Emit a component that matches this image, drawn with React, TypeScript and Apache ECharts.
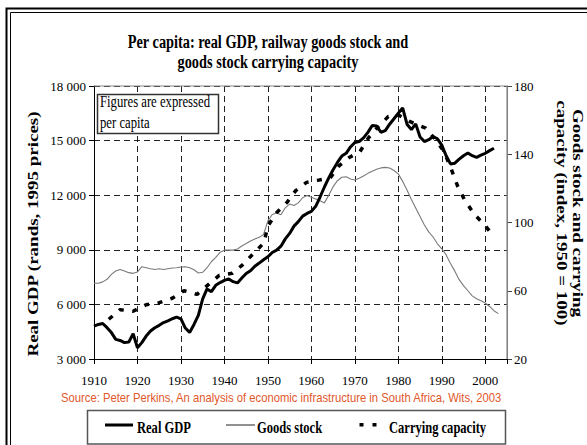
import React, { useEffect, useRef } from "react";
import * as echarts from "echarts";

// ---------- data ----------
const TITLE_LINE_1 = "Per capita: real GDP, railway goods stock and";
const TITLE_LINE_2 = "goods stock carrying capacity";
const LEFT_AXIS_TITLE = "Real GDP (rands, 1995 prices)";
const RIGHT_AXIS_TITLE = "Goods stock and carrying\ncapacity (index, 1950 = 100)";
const NOTE_LINES = ["Figures are expressed", "per capita"];
const SOURCE = "Source: Peter Perkins, An analysis of economic infrastructure in South Africa, Wits, 2003";
const SERIES_NAMES = ["Real GDP", "Goods stock", "Carrying capacity"];

const GDP_YEARS = [
  1910, 1911, 1912, 1913, 1914, 1915, 1916, 1917, 1918, 1919,
  1920, 1921, 1922, 1923, 1924, 1925, 1926, 1927, 1928, 1929,
  1930, 1931, 1932, 1933, 1934, 1935, 1936, 1937, 1938, 1939,
  1940, 1941, 1942, 1943, 1944, 1945, 1946, 1947, 1948, 1949,
  1950, 1951, 1952, 1953, 1954, 1955, 1956, 1957, 1958, 1959,
  1960, 1961, 1962, 1963, 1964, 1965, 1966, 1967, 1968, 1969,
  1970, 1971, 1972, 1973, 1974, 1975, 1976, 1977, 1978, 1979,
  1980, 1981, 1982, 1983, 1984, 1985, 1986, 1987, 1988, 1989,
  1990, 1991, 1992, 1993, 1994, 1995, 1996, 1997, 1998, 1999,
  2000, 2001, 2002,
];
const GDP = [
  4800, 4900, 4950, 4720, 4450, 4080, 4020, 3900, 3930, 4390,
  3620, 3900, 4260, 4540, 4720, 4850, 5000, 5090, 5210, 5300,
  5200, 4700, 4460, 4900, 5400, 6300, 6850, 6700, 7050, 7200,
  7320, 7400, 7250, 7180, 7450, 7700, 7850, 8100, 8270, 8450,
  8620, 8850, 8980, 9200, 9600, 9900, 10300, 10550, 10850, 11000,
  11110, 11390, 11900, 12450, 12950, 13400, 13800, 14150, 14300, 14650,
  14900, 14950, 15150, 15450, 15830, 15800, 15460, 15550, 15900, 16200,
  16500, 16800, 15900, 15600, 15920, 15200, 14950, 15050, 15220, 15100,
  14750, 14170, 13720, 13760, 13980, 14170, 14320, 14170, 14080, 14200,
  14300, 14450, 14580,
];

const STOCK_YEARS = [
  1910, 1911, 1912, 1913, 1914, 1915, 1916, 1917, 1918, 1919,
  1920, 1921, 1922, 1923, 1924, 1925, 1926, 1927, 1928, 1929,
  1930, 1931, 1932, 1933, 1934, 1935, 1936, 1937, 1938, 1939,
  1940, 1941, 1942, 1943, 1944, 1945, 1946, 1947, 1948, 1949,
  1950, 1951, 1952, 1953, 1954, 1955, 1956, 1957, 1958, 1959,
  1960, 1961, 1962, 1963, 1964, 1965, 1966, 1967, 1968, 1969,
  1970, 1971, 1972, 1973, 1974, 1975, 1976, 1977, 1978, 1979,
  1980, 1981, 1982, 1983, 1984, 1985, 1986, 1987, 1988, 1989,
  1990, 1991, 1992, 1993, 1994, 1995, 1996, 1997, 1998, 1999,
  2000, 2001, 2002, 2003,
];
const GOODS_STOCK = [
  64.4, 64.4, 65.2, 66.7, 69.6, 71.6, 72.5, 71.6, 70.6, 70.2,
  71.0, 74.1, 73.5, 72.9, 72.5, 72.9, 72.5, 72.9, 73.3, 73.5,
  73.9, 74.1, 73.5, 72.3, 70.4, 70.8, 73.5, 77.0, 79.5, 82.5,
  83.8, 83.8, 83.8, 84.5, 86.2, 87.7, 89.1, 90.3, 91.3, 93.0,
  101.0, 104.7, 105.6, 104.5, 108.6, 110.8, 110.0, 111.5, 114.5, 115.8,
  114.8, 113.8, 112.7, 111.5, 116.0, 121.0, 124.5, 126.5, 126.8, 125.5,
  124.9, 126.0, 127.3, 128.8, 130.0, 131.2, 132.0, 132.3, 131.9, 130.5,
  128.5, 124.1, 119.0, 113.5, 108.5, 103.5, 98.5, 94.5, 91.5, 87.5,
  84.6, 81.0, 76.0, 71.5, 66.5, 63.0, 60.0, 57.0, 55.3, 54.2,
  52.8, 50.8, 48.3, 46.6,
];

const CAPACITY_YEARS = [
  1913.4, 1916, 1919, 1922, 1925, 1928, 1930.7, 1933.7, 1938.8, 1941.8,
  1944.1, 1946.7, 1949.1, 1950, 1952, 1954.4, 1956.4, 1958.9, 1961.4, 1964.3,
  1966.4, 1968.7, 1971.2, 1973.1, 1975.4, 1977.7, 1980, 1982.6, 1986.3, 1988.6,
  1990.5, 1992.1, 1993.6, 1995.2, 1997.5, 1999.8, 2001.9,
];
const CARRYING_CAPACITY = [
  43.3, 48.9, 48.0, 51.8, 53.0, 55.6, 60.0, 57.9, 69.0, 70.2,
  75.0, 81.9, 88.1, 98.0, 105.7, 111.8, 118.7, 123.5, 124.7, 126.1,
  133.3, 138.1, 141.6, 149.5, 156.2, 162.1, 163.0, 159.2, 155.3, 148.5,
  141.6, 131.9, 121.6, 113.4, 104.7, 98.8, 92.0,
];

const X_MIN = 1910;
const X_MAX = 2005;
const X_STEP = 10;
const GDP_MIN = 3000;
const GDP_MAX = 18000;
const GDP_STEP = 3000;
const IDX_MIN = 20;
const IDX_MAX = 180;
const IDX_STEP = 40;

// ---------- styling ----------
const SERIF = '"Liberation Serif", "Times New Roman", Times, serif';
const SANS = '"Liberation Sans", Arial, Helvetica, sans-serif';

function measure(text: string, font: string): number {
  const ctx = document.createElement("canvas").getContext("2d");
  if (!ctx) return text.length * 8;
  ctx.font = font;
  return ctx.measureText(text).width;
}

function fitScale(text: string, font: string, target: number): number {
  const w = measure(text, font);
  return w > 0 ? target / w : 1;
}

function thousands(v: number): string {
  return String(v).replace(/\B(?=(\d{3})+(?!\d))/g, " ");
}

const zip = (xs: number[], ys: number[]) => xs.map((x, i) => [x, ys[i]]);

type FontSpec = { family: string; size: number; weight: string };

const cssFont = (f: FontSpec) => `${f.weight} ${f.size}px ${f.family}`;

export default function App() {
  const ref = useRef<HTMLDivElement>(null);

  useEffect(() => {
    if (!ref.current) return;
    const chart = echarts.init(ref.current, undefined, { renderer: "svg" });

    const titleFont: FontSpec = { family: SERIF, size: 19, weight: "bold" };
    const titleScale = fitScale(TITLE_LINE_1, cssFont(titleFont), 281);
    const noteFont: FontSpec = { family: SERIF, size: 17, weight: "normal" };
    const noteScale = fitScale(NOTE_LINES[0], cssFont(noteFont), 110);
    const legendFont: FontSpec = { family: SERIF, size: 17, weight: "bold" };
    const legendScale = fitScale(SERIES_NAMES[0], cssFont(legendFont), 54);
    const sourceFont: FontSpec = { family: SANS, size: 12, weight: "normal" };
    const sourceScale = fitScale(SOURCE, cssFont(sourceFont), 442);

    const gridLine = { show: true, lineStyle: { color: "#222", width: 1, type: [6, 4] as any } };

    const textEl = (
      text: string,
      x: number,
      y: number,
      f: FontSpec,
      scaleX: number,
      align = "left",
      fill = "#000"
    ) => ({
      type: "text",
      x,
      y,
      scaleX,
      silent: true,
      z: 20,
      style: {
        text,
        fontFamily: f.family,
        fontSize: f.size,
        fontWeight: f.weight,
        fill,
        textAlign: align,
        textVerticalAlign: "middle",
      },
    });

    const option: any = {
      animation: false,
      backgroundColor: "#fff",
      grid: { left: 94, top: 86, width: 413, height: 273, containLabel: false },
      xAxis: {
        type: "value",
        min: X_MIN,
        max: X_MAX,
        interval: X_STEP,
        axisLine: { show: true, lineStyle: { color: "#000", width: 1 } },
        axisTick: { show: true, inside: false, length: 5, lineStyle: { color: "#000" } },
        axisLabel: {
          color: "#000",
          fontFamily: SERIF,
          fontSize: 13,
          margin: 15,
          formatter: (v: number) => (v % 10 === 0 && v <= 2000 ? String(v) : ""),
        },
        splitLine: gridLine,
      },
      yAxis: [
        {
          type: "value",
          position: "left",
          min: GDP_MIN,
          max: GDP_MAX,
          interval: GDP_STEP,
          axisLine: { show: true, lineStyle: { color: "#000", width: 1 } },
          axisTick: { show: true, inside: false, length: 5, lineStyle: { color: "#000" } },
          axisLabel: { color: "#000", fontFamily: SERIF, fontSize: 13, margin: 8, formatter: (v: number) => thousands(v) },
          splitLine: gridLine,
        },
        {
          type: "value",
          position: "right",
          min: IDX_MIN,
          max: IDX_MAX,
          interval: IDX_STEP,
          axisLine: { show: true, lineStyle: { color: "#777", width: 1 } },
          axisTick: { show: true, inside: false, length: 5, lineStyle: { color: "#444" } },
          axisLabel: { color: "#000", fontFamily: SERIF, fontSize: 13, margin: 7 },
          splitLine: { show: false },
        },
      ],
      series: [
        {
          name: SERIES_NAMES[1],
          type: "line",
          yAxisIndex: 1,
          data: zip(STOCK_YEARS, GOODS_STOCK),
          showSymbol: false,
          symbol: "none",
          lineStyle: { color: "#7a7a7a", width: 1.1 },
          z: 3,
        },
        {
          name: SERIES_NAMES[2],
          type: "line",
          yAxisIndex: 1,
          data: zip(CAPACITY_YEARS, CARRYING_CAPACITY),
          showSymbol: false,
          symbol: "none",
          lineStyle: { color: "#000", width: 3.5, type: [5, 8.5], cap: "butt" },
          z: 4,
        },
        {
          name: SERIES_NAMES[0],
          type: "line",
          yAxisIndex: 0,
          data: zip(GDP_YEARS, GDP),
          showSymbol: false,
          symbol: "none",
          lineStyle: { color: "#000", width: 3 },
          z: 5,
        },
      ],
      graphic: [
        // outer double frame
        { type: "rect", silent: true, z: 1, shape: { x: 6.5, y: 8.5, width: 640, height: 480 }, style: { fill: "none", stroke: "#000", lineWidth: 2 } },
        { type: "rect", silent: true, z: 1, shape: { x: 10.5, y: 12.5, width: 640, height: 480 }, style: { fill: "none", stroke: "#000", lineWidth: 1 } },
        // plot frame: top and right edges
        { type: "line", silent: true, z: 30, shape: { x1: 94, y1: 86, x2: 507, y2: 86 }, style: { stroke: "#888", lineWidth: 1.2 } },
        { type: "line", silent: true, z: 30, shape: { x1: 507, y1: 86, x2: 507, y2: 359 }, style: { stroke: "#888", lineWidth: 1.2 } },
        // title
        textEl(TITLE_LINE_1, 268, 42, titleFont, titleScale, "center"),
        textEl(TITLE_LINE_2, 268, 62, titleFont, titleScale, "center"),
        // axis titles
        {
          type: "text",
          x: 33,
          y: 234,
          rotation: Math.PI / 2,
          scaleY: 0.78,
          silent: true,
          z: 20,
          style: {
            text: LEFT_AXIS_TITLE,
            fontFamily: SERIF,
            fontSize: 19,
            fontWeight: "bold",
            fill: "#000",
            textAlign: "center",
            textVerticalAlign: "middle",
          },
        },
        {
          type: "text",
          x: 570,
          y: 213,
          rotation: -Math.PI / 2,
          scaleY: 0.78,
          silent: true,
          z: 20,
          style: {
            text: RIGHT_AXIS_TITLE,
            fontFamily: SERIF,
            fontSize: 19,
            fontWeight: "bold",
            lineHeight: 20,
            fill: "#000",
            textAlign: "center",
            textVerticalAlign: "middle",
          },
        },
        // note box
        { type: "rect", silent: true, z: 19, shape: { x: 97.5, y: 94.5, width: 121, height: 39 }, style: { fill: "#fff", stroke: "#333", lineWidth: 1.5 } },
        textEl(NOTE_LINES[0], 100, 101.5, noteFont, noteScale),
        textEl(NOTE_LINES[1], 100, 122, noteFont, noteScale),
        // source
        textEl(SOURCE, 61, 397, sourceFont, sourceScale, "left", "#e2572b"),
        // legend
        { type: "rect", silent: true, z: 19, shape: { x: 87.5, y: 410.5, width: 418, height: 33.5 }, style: { fill: "#fff", stroke: "#555", lineWidth: 1.5 } },
        { type: "line", silent: true, z: 20, shape: { x1: 105, y1: 425, x2: 133, y2: 425 }, style: { stroke: "#000", lineWidth: 3 } },
        { type: "line", silent: true, z: 20, shape: { x1: 226, y1: 425, x2: 255, y2: 425 }, style: { stroke: "#222", lineWidth: 1 } },
        { type: "rect", silent: true, z: 20, shape: { x: 359.5, y: 423, width: 4, height: 3.5 }, style: { fill: "#000" } },
        { type: "rect", silent: true, z: 20, shape: { x: 372.5, y: 423, width: 4, height: 3.5 }, style: { fill: "#000" } },
        textEl(SERIES_NAMES[0], 137, 427, legendFont, legendScale),
        textEl(SERIES_NAMES[1], 257, 427, legendFont, legendScale),
        textEl(SERIES_NAMES[2], 389, 427, legendFont, legendScale),
      ],
    };

    chart.setOption(option);
    return () => chart.dispose();
  }, []);

  return (
    <div
      ref={ref}
      style={{ position: "absolute", left: 0, top: 0, width: 587, height: 445, background: "#fff" }}
    />
  );
}
